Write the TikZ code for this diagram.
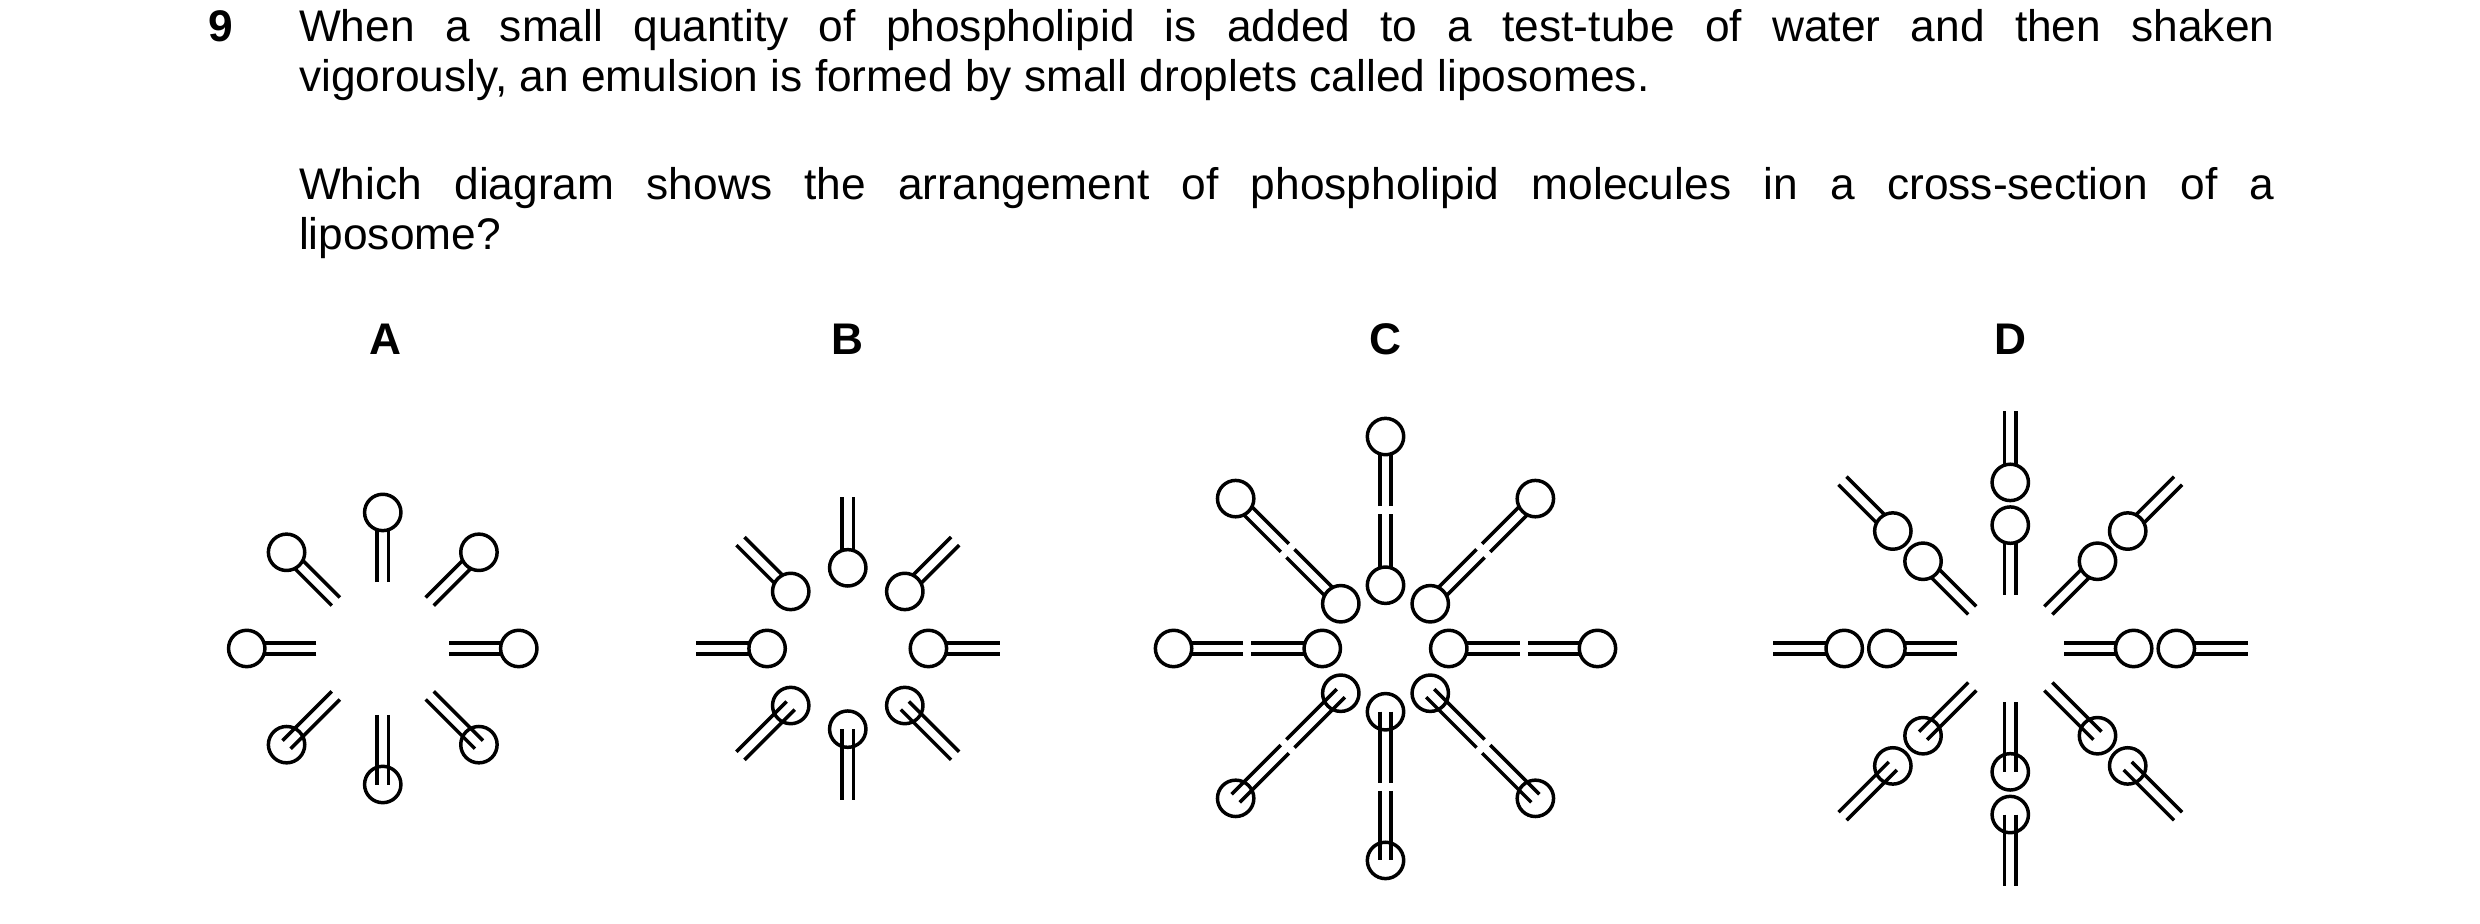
\documentclass[tikz,border=0pt]{standalone}
\usetikzlibrary{calc}
\usepackage{fontspec}
\setmainfont{Liberation Sans}
\begin{document}
\begin{tikzpicture}[x=0.5pt,y=-0.5pt,line width=1.1pt,
  head/.style={circle,draw,fill=white,minimum size=11.5pt,inner sep=0pt,line width=1.1pt},
  txt/.style={inner sep=0pt,anchor=base west,font=\fontsize{14}{16}\selectfont},
  lab/.style={inner sep=0pt,anchor=base,font=\fontsize{14}{16}\selectfont\bfseries}]
\useasboundingbox (0,0) rectangle (1568,584);
% tail: centre x, y, angle, r1, r2
\newcommand{\tl}[5]{\begin{scope}[shift={(#1,#2)},rotate=#3]
  \draw (#4,3.6)--(#5,3.6) (#4,-3.6)--(#5,-3.6);\end{scope}}
\node[txt,font=\fontsize{14}{16}\selectfont\bfseries] (q) at (131,26) {9};
\node[txt] (p1) at (188,26) {\parbox[t]{624.5pt}{When a small quantity of phospholipid is added to a test-tube of water and then shaken\linebreak vigorously, an emulsion is formed by small droplets called liposomes.}};
\node[txt] (p2) at (188,126) {\parbox[t]{624.5pt}{Which diagram shows the arrangement of phospholipid molecules in a cross-section of a\linebreak liposome?}};
\node[lab] (lA) at (244,224) {A};
\node[lab] (lB) at (536,224) {B};
\node[lab] (lC) at (876,224) {C};
\node[lab] (lD) at (1271,224) {D};
% A
\foreach \a in {0,45,...,315}{\tl{242}{410}{\a}{42}{86}
  \node[head] (A\a) at ($(242,410)+(\a:86)$) {};}
% B
\foreach \a in {0,45,...,315}{\tl{536}{410}{\a}{51}{96}
  \node[head] (B\a) at ($(536,410)+(\a:51)$) {};}
% C
\foreach \a in {0,45,...,315}{\tl{876}{410}{\a}{40}{85}\tl{876}{410}{\a}{90}{134}
  \node[head] (Ci\a) at ($(876,410)+(\a:40)$) {};
  \node[head] (Co\a) at ($(876,410)+(\a:134)$) {};}
% D
\foreach \a in {0,45,...,315}{\tl{1271}{410}{\a}{34}{78}\tl{1271}{410}{\a}{105}{150}
  \node[head] (Di\a) at ($(1271,410)+(\a:78)$) {};
  \node[head] (Do\a) at ($(1271,410)+(\a:105)$) {};}
\end{tikzpicture}
\end{document}
